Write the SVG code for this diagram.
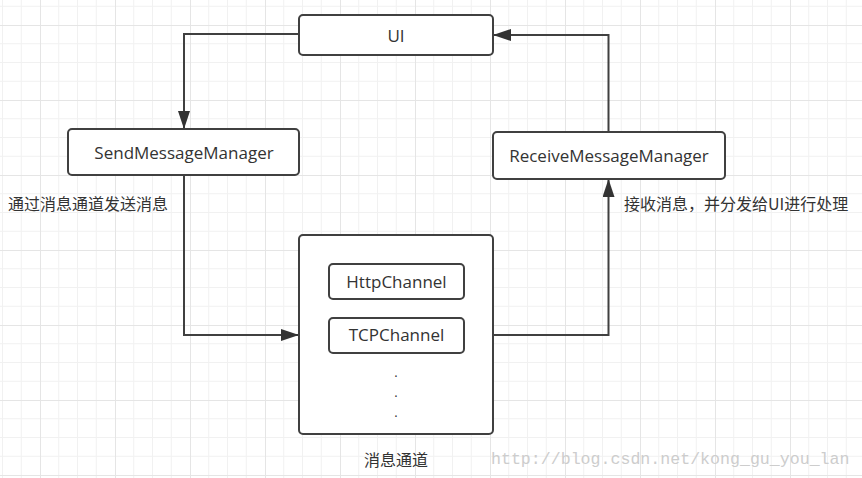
<svg xmlns="http://www.w3.org/2000/svg" width="862" height="478" viewBox="0 0 862 478">
<style>
.box{fill:#fff;stroke:#404040;stroke-width:2}
.lbl{font-family:"Open Sans","Noto Sans CJK SC",sans-serif;font-size:17px;fill:#333;text-anchor:middle}
.dot{font-family:"Open Sans",sans-serif;font-size:13px;fill:#333;text-anchor:middle}
.cjk{font-family:"Noto Sans CJK SC","Open Sans",sans-serif;font-size:16px;fill:#333}
.conn{fill:none;stroke:#404040;stroke-width:2}
.wm{font-family:"Liberation Mono",monospace;font-size:16.6px;fill:#cdcdcd}
</style>
<defs>
<pattern id="grid" patternUnits="userSpaceOnUse" x="40" y="25" width="75" height="75">
<rect x="18.25" y="0" width="1" height="75" fill="#f1f1f1"/>
<rect x="37" y="0" width="1" height="75" fill="#f1f1f1"/>
<rect x="55.75" y="0" width="1" height="75" fill="#f1f1f1"/>
<rect x="0" y="18.25" width="75" height="1" fill="#f1f1f1"/>
<rect x="0" y="37" width="75" height="1" fill="#f1f1f1"/>
<rect x="0" y="55.75" width="75" height="1" fill="#f1f1f1"/>
<rect x="0" y="0" width="1" height="75" fill="#e5e5e5"/>
<rect x="0" y="0" width="75" height="1" fill="#e5e5e5"/>
</pattern>
<marker id="arr" markerUnits="userSpaceOnUse" markerWidth="18" markerHeight="12" refX="18" refY="6" orient="auto">
<path d="M0,0 L18,6 L0,12 z" fill="#333"/>
</marker>
</defs>
<rect width="862" height="478" fill="#fff"/>
<rect width="862" height="478" fill="url(#grid)"/>

<g id="connectors">
<path class="conn" d="M299,34 H184 V129" marker-end="url(#arr)"/>
<path class="conn" d="M184,175 V335 H299" marker-end="url(#arr)"/>
<path class="conn" d="M493,335 H608.5 V179" marker-end="url(#arr)"/>
<path class="conn" d="M608.5,132 V35 H493" marker-end="url(#arr)"/>
</g>

<g id="ui">
<rect class="box" x="299" y="15" width="194" height="40" rx="4"/>
<text class="lbl" x="396" y="42">UI</text>
</g>
<g id="send">
<rect class="box" x="68" y="129" width="231" height="46" rx="4"/>
<text class="lbl" x="184" y="159">SendMessageManager</text>
</g>
<g id="receive">
<rect class="box" x="493" y="132" width="232" height="47" rx="4"/>
<text class="lbl" x="609" y="161.5">ReceiveMessageManager</text>
</g>
<g id="channel">
<rect class="box" x="299" y="235" width="194" height="199" rx="4"/>
<text class="dot" x="396" y="377">.</text>
<text class="dot" x="396" y="397">.</text>
<text class="dot" x="396" y="417">.</text>
<text class="cjk" x="396" y="466" text-anchor="middle">消息通道</text>
</g>
<g id="http">
<rect class="box" x="329" y="264" width="135" height="35" rx="4"/>
<text class="lbl" x="396.5" y="287.5">HttpChannel</text>
</g>
<g id="tcp">
<rect class="box" x="329" y="318" width="135" height="35" rx="4"/>
<text class="lbl" x="396.5" y="341">TCPChannel</text>
</g>
<g id="labels">
<text class="cjk" x="8" y="210">通过消息通道发送消息</text>
<text class="cjk" x="624" y="210">接收消息，并分发给UI进行处理</text>
</g>
<text class="wm" x="491" y="464">http://blog.csdn.net/kong_gu_you_lan</text>
</svg>
